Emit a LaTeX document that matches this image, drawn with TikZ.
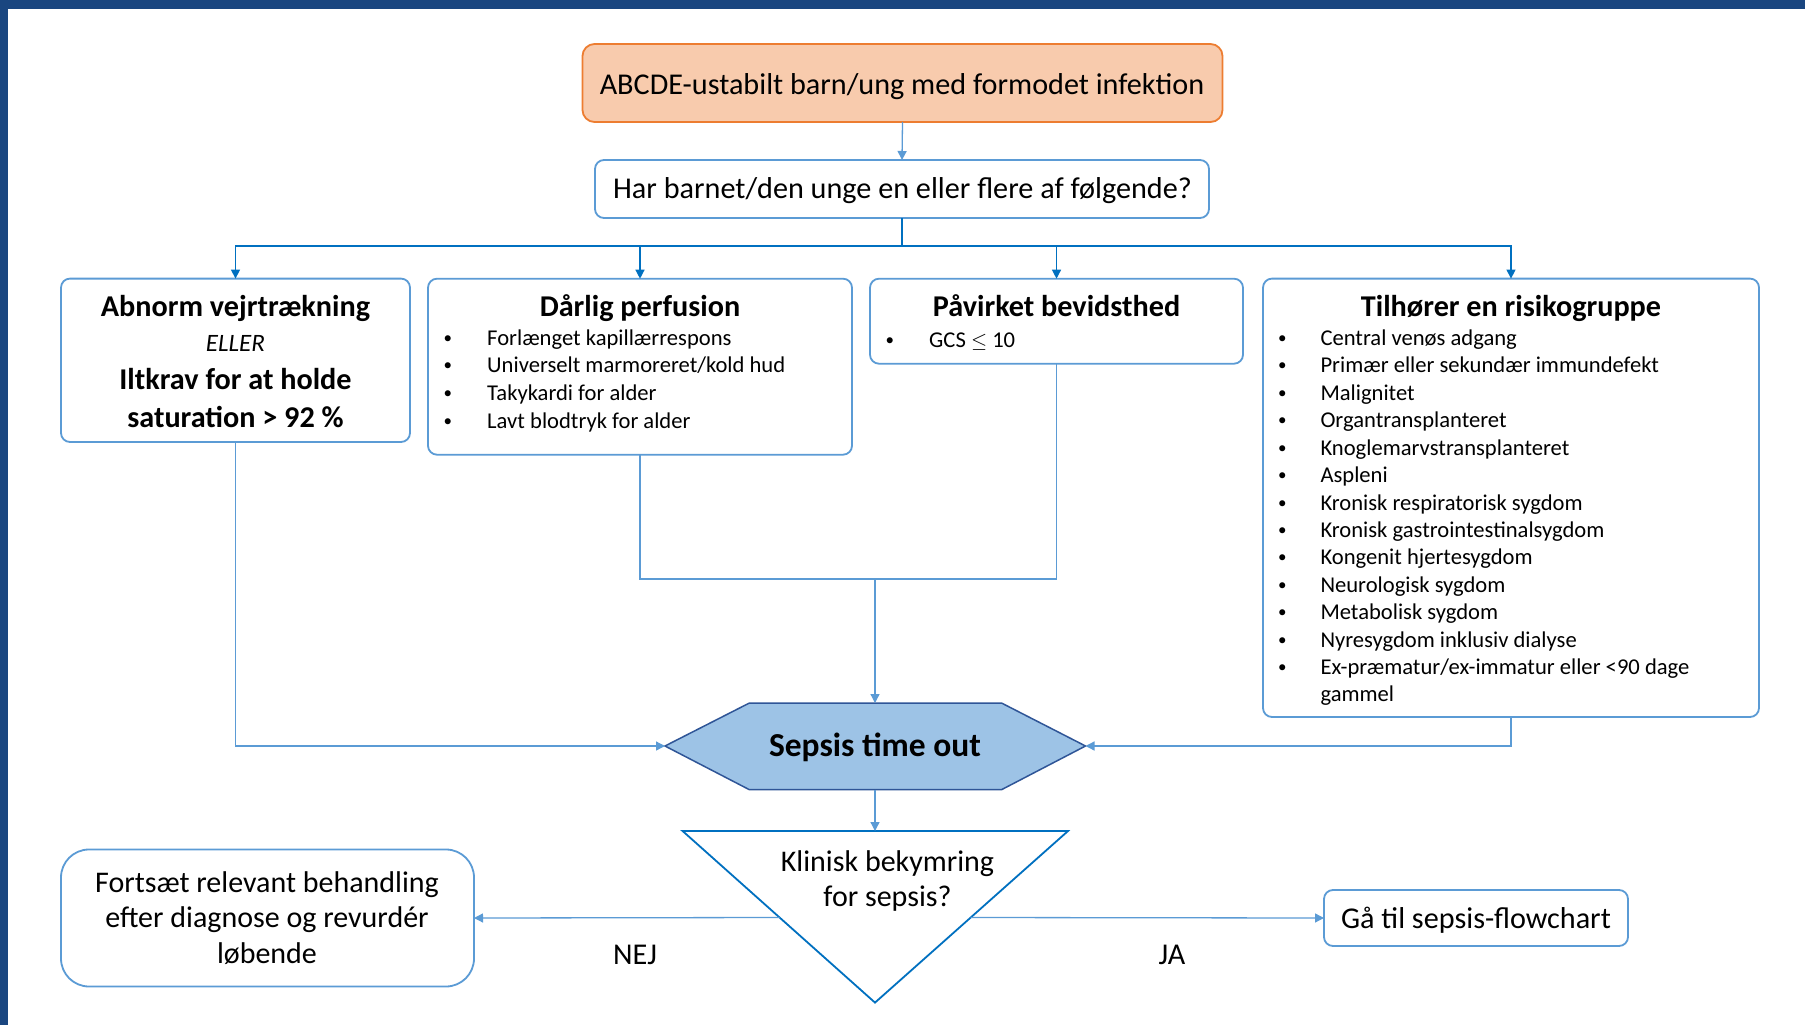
\documentclass[tikz,border=0pt]{standalone}
\usepackage{fontspec}
\setmainfont{Carlito}
\usetikzlibrary{arrows.meta}
\definecolor{cBox}{HTML}{5B9BD5}
\definecolor{cOrF}{HTML}{F8CBAD}
\definecolor{cOrD}{HTML}{ED7D31}
\definecolor{cArr}{HTML}{0070C0}
\definecolor{cLine}{HTML}{5B9BD5}
\definecolor{cHexF}{HTML}{9DC3E6}
\definecolor{cHexD}{HTML}{2F5597}
\definecolor{cNavy}{HTML}{1A4680}
\definecolor{cTeal}{HTML}{2F85A5}
\begin{document}
\begin{tikzpicture}[x=1pt,y=-1pt,
  box/.style={draw=cBox, line width=1.8pt, rounded corners=9pt, fill=white, inner sep=0pt, outer sep=0pt},
  obox/.style={box, draw=cOrD, fill=cOrF, rounded corners=12pt},
  t30/.style={inner sep=0pt, font=\fontsize{30.2}{36}\selectfont, text height=24pt, text depth=3pt},
  hb/.style={t30, font=\fontsize{30.2}{36}\selectfont\bfseries},
  it/.style={inner sep=0pt, font=\fontsize{25}{30}\selectfont\itshape, text height=19pt, text depth=3pt},
  li/.style={inner sep=0pt, anchor=west, font=\fontsize{22.6}{27}\selectfont, text height=18pt, text depth=2pt},
  bu/.style={inner sep=0pt, anchor=center, font=\fontsize{17}{20}\selectfont, text height=12pt, text depth=0pt},
  ml/.style={inner sep=0pt, align=center, font=\fontsize{30}{35.7}\selectfont},
  sto/.style={inner sep=0pt, font=\fontsize{33.5}{40}\selectfont\bfseries},
  ln/.style={draw=cLine, line width=1.3pt},
  lnB/.style={draw=cArr, line width=1.3pt},
  arr/.style={ln, -{Triangle[length=9pt,width=9pt]}},
  arrB/.style={lnB, -{Triangle[length=9pt,width=9pt]}},
  hex/.style={draw=cHexD, fill=cHexF, line width=1.5pt, line join=miter},
  tri/.style={draw=cArr, fill=white, line width=1.8pt, line join=miter}
]
\useasboundingbox (0,0) rectangle (1805,1025);
\fill[white] (0,0) rectangle (1805,1025);
\shade[left color=cNavy, middle color=cTeal, right color=cNavy] (0,0) rectangle (1805,9);
\fill[cNavy] (0,0) rectangle (8,1025);

% top boxes
\node[obox, minimum width=640pt, minimum height=78pt] (top) at (902.5,83) {};
\node[t30] (topt) at (902,84) {ABCDE-ustabilt barn/ung med formodet infektion};
\node[box, minimum width=614pt, minimum height=58pt] (q) at (902,189) {};
\node[t30] (qt) at (902.5,187.5) {Har barnet/den unge en eller flere af følgende?};

% four criteria boxes
\node[box, minimum width=349pt, minimum height=163.4pt] (b1) at (235.5,360.3) {};
\node[box, minimum width=424pt, minimum height=176pt] (b2) at (640,366.7) {};
\node[box, minimum width=373pt, minimum height=85pt] (b3) at (1056.5,321.2) {};
\node[box, minimum width=496pt, minimum height=438.4pt] (b4) at (1511,497.8) {};

\node[hb] (b1a) at (235.5,306) {Abnorm vejrtrækning};
\node[it] (b1b) at (235.5,343) {ELLER};
\node[hb] (b1c) at (235.5,379) {Iltkrav for at holde};
\node[hb] (b1d) at (235.5,417) {saturation > 92 \%};

\node[hb] (b2h) at (640,306) {Dårlig perfusion};
\foreach \t [count=\i] in {Forlænget kapillærrespons, Universelt marmoreret/kold hud, Takykardi for alder, Lavt blodtryk for alder}{
  \node[bu] (b2d\i) at (447.8,{337.3+27.6*(\i-1)}) {\textbullet};
  \node[li] (b2t\i) at (487,{337.3+27.6*(\i-1)}) {\t};
}

\node[hb] (b3h) at (1056.5,306) {Påvirket bevidsthed};
\node[bu] (b3d1) at (889.8,339.6) {\textbullet};
\node[li] (b3t1) at (929,339.6) {GCS $\leq$ 10};

\node[hb] (b4h) at (1511,306) {Tilhører en risikogruppe};
\foreach \t [count=\i] in {Central venøs adgang, Primær eller sekundær immundefekt, Malignitet, Organtransplanteret, Knoglemarvstransplanteret, Aspleni, Kronisk respiratorisk sygdom, Kronisk gastrointestinalsygdom, Kongenit hjertesygdom, Neurologisk sygdom, Metabolisk sygdom, Nyresygdom inklusiv dialyse, Ex-præmatur/ex-immatur eller <90 dage}{
  \node[bu] (b4d\i) at (1282.3,{337.3+27.45*(\i-1)}) {\textbullet};
  \node[li] (b4t\i) at (1320.3,{337.3+27.45*(\i-1)}) {\t};
}
\node[li] (b4t14) at (1320.3,693) {gammel};

% hexagon
\draw[hex] (665,746) -- (749.4,703) -- (1001.5,703) -- (1085.5,746) -- (1001.5,789.7) -- (749.4,789.7) -- cycle;
\coordinate (hl) at (665,746);
\coordinate (hr) at (1085.5,746);
\coordinate (ht) at (875,703);
\coordinate (hbot) at (875,789.7);
\node[sto] (sto) at (875,747.5) {Sepsis time out};

% triangle
\draw[tri] (682.6,831) -- (1068,831) -- (875,1002.6) -- cycle;
\coordinate (tt) at (875,831);
\coordinate (tl) at (779.6,917.5);
\coordinate (tr) at (970.7,917.5);
\node[ml] (kb) at (887.5,881) {Klinisk bekymring\\for sepsis?};

% bottom boxes
\node[box, rounded corners=28pt, minimum width=413pt, minimum height=137pt] (fb) at (267.5,918) {};
\node[ml] (fbt) at (267,918) {Fortsæt relevant behandling\\efter diagnose og revurdér\\løbende};
\node[box, minimum width=304pt, minimum height=56pt] (ga) at (1476,918) {};
\node[t30] (gat) at (1476,917.5) {Gå til sepsis-flowchart};

\node[t30] (nej) at (635,954) {NEJ};
\node[t30] (ja) at (1172,954) {JA};

% connectors
\draw[arr] (top.south) -- (q.north);
\coordinate (j) at (902,246);
\draw[lnB] (q.south) -- (j);
\draw[arrB] (j) -| (b1.north);
\draw[arrB] (j) -| (b2.north);
\draw[arrB] (j) -| (b3.north);
\draw[arrB] (j) -| (b4.north);

\coordinate (m) at (875,579);
\draw[ln] (b2.south) |- (m) -| (b3.south);
\draw[arr] (m) -- (ht);
\draw[arr] (b1.south) |- (hl);
\draw[arr] (b4.south) |- (hr);
\draw[arr] (hbot) -- (tt);
\draw[arr] (tl) -- (fb.east);
\draw[arr] (tr) -- (ga.west);
\end{tikzpicture}
\end{document}
